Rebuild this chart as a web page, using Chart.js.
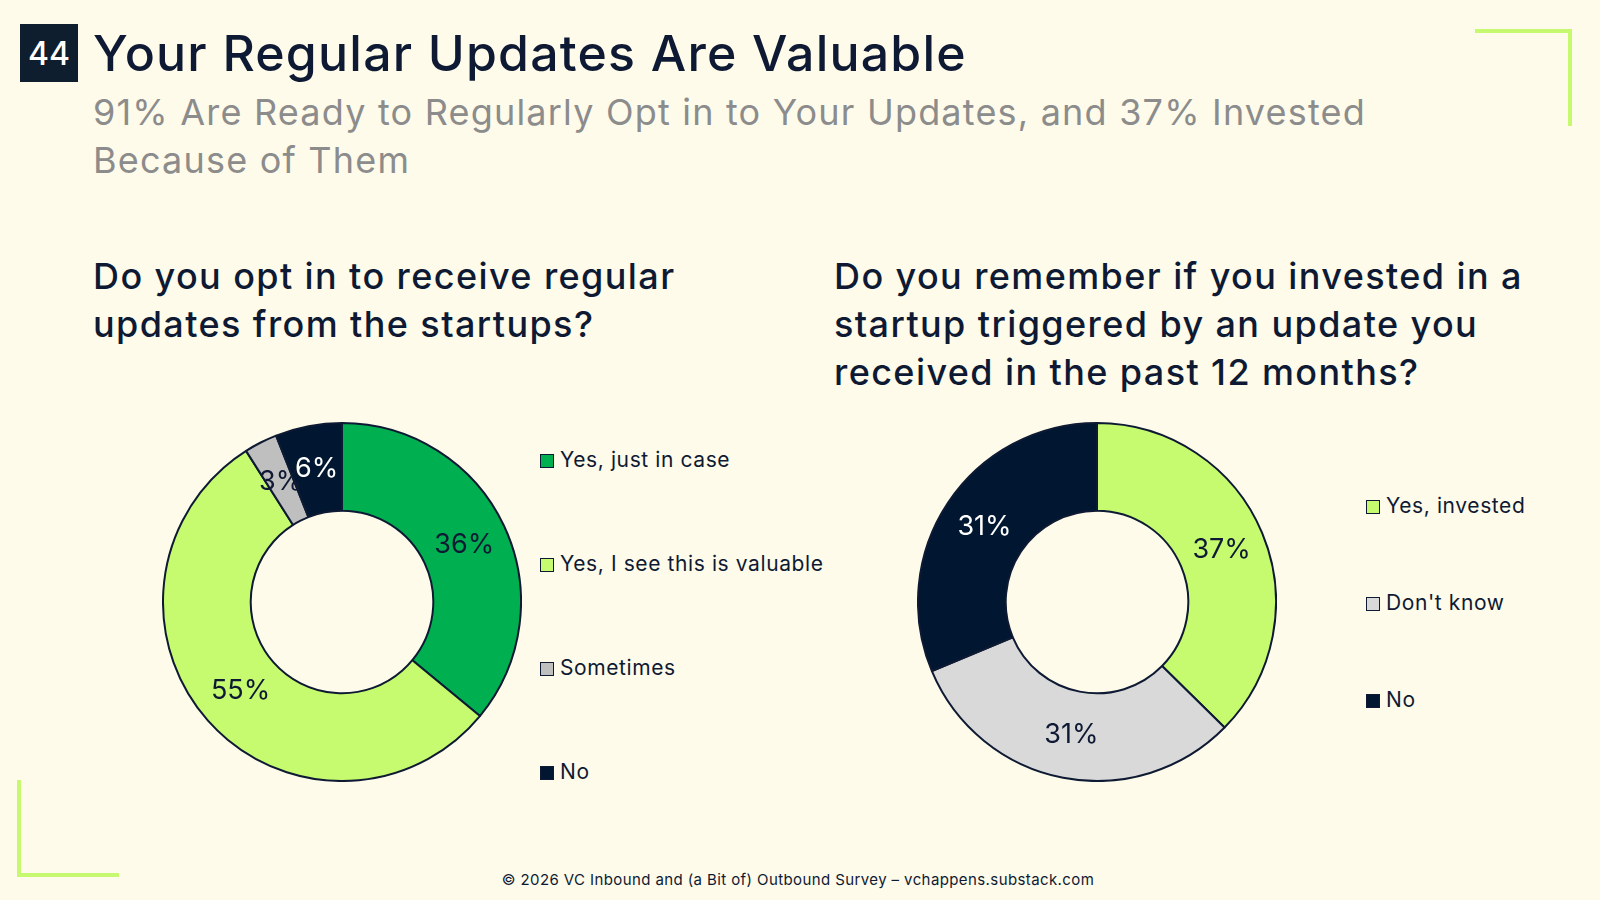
<!DOCTYPE html>
<html>
<head>
<meta charset="utf-8">
<script src="https://cdn.jsdelivr.net/npm/chart.js@4"></script>
<style>
  body { margin: 0; background: #fefbea; font-family: "Inter", "DejaVu Sans", sans-serif; color: #0e1a2e; }
  #page { position: relative; width: 1600px; height: 900px; overflow: hidden; background: #fefbea; }
  .abs { position: absolute; }
  #badge { left: 20px; top: 24px; width: 58px; height: 58px; background: #0f1e2e; color: #fff; font-size: 32px; font-weight: 500; display: flex; align-items: center; justify-content: center; }
  #title { left: 93px; top: 23px; font-size: 50px; font-weight: 500; letter-spacing: 1.2px; color: #0e1a33; }
  #subtitle { left: 93px; top: 88px; font-size: 36px; color: #8c8c8c; line-height: 48px; width: 1400px; letter-spacing: 1.2px; }
  .q { font-size: 36px; font-weight: 500; line-height: 48px; color: #0e1a33; letter-spacing: 1.4px; }
  .legend div { position: absolute; white-space: nowrap; font-size: 21px; color: #0e1a33; line-height: 24px; letter-spacing: 0.6px; }
  .legend span { display: inline-block; width: 12px; height: 12px; border: 1.5px solid #0e1a33; margin-right: 6px; vertical-align: -1px; }
  .bar { background: #c6f96f; position: absolute; }
  #footer { left: 0; width: 1596px; top: 870px; text-align: center; font-size: 15px; color: #0e1a33; letter-spacing: 0.4px; }
</style>
</head>
<body>
<div id="page">
  <div id="badge" class="abs">44</div>
  <div id="title" class="abs">Your Regular Updates Are Valuable</div>
  <div id="subtitle" class="abs">91% Are Ready to Regularly Opt in to Your Updates, and 37% Invested<br>Because of Them</div>

  <div class="bar" style="left:1475px;top:29px;width:97px;height:4px"></div>
  <div class="bar" style="left:1568px;top:29px;width:4px;height:97px"></div>
  <div class="bar" style="left:17px;top:780px;width:4px;height:97px"></div>
  <div class="bar" style="left:17px;top:873px;width:102px;height:4px"></div>

  <div class="abs q" style="left:93px;top:252px;width:740px">Do you opt in to receive regular<br>updates from the startups?</div>
  <div class="abs q" style="left:834px;top:252px;width:760px">Do you remember if you invested in a<br>startup triggered by an update you<br>received in the past 12 months?</div>

  <div class="abs" style="left:162px;top:422px;width:360px;height:360px"><canvas id="c1" width="360" height="360"></canvas></div>
  <div class="abs" style="left:917px;top:422px;width:360px;height:360px"><canvas id="c2" width="360" height="360"></canvas></div>

  <div id="leg1" class="legend"></div>
  <div id="leg2" class="legend"></div>

  <div id="footer" class="abs">© 2026 VC Inbound and (a Bit of) Outbound Survey – vchappens.substack.com</div>
</div>
<script>
const optInLabels = ["Yes, just in case", "Yes, I see this is valuable", "Sometimes", "No"];
const optInValues = [36, 55, 3, 6];
const optInColors = ["#00b050", "#c6fb70", "#bfbfbf", "#011630"];
const optInText = ["#0e1a33", "#0e1a33", "#0e1a33", "#ffffff"];

const investLabels = ["Yes, invested", "Don't know", "No"];
const investValues = [37, 31, 31];
const investColors = ["#c6fb70", "#d9d9d9", "#011630"];
const investText = ["#0e1a33", "#0e1a33", "#ffffff"];

const pctLabels = {
  id: "pctLabels",
  afterDatasetsDraw(chart) {
    const ctx = chart.ctx;
    const ds = chart.data.datasets[0];
    chart.getDatasetMeta(0).data.forEach((arc, i) => {
      const p = arc.tooltipPosition();
      ctx.save();
      ctx.font = "27px Inter, sans-serif";
      ctx.fillStyle = ds.textColors[i];
      ctx.textAlign = "center";
      ctx.textBaseline = "middle";
      ctx.fillText(ds.data[i] + "%", p.x, p.y);
      ctx.restore();
    });
  }
};

function donut(id, values, colors, textColors) {
  new Chart(document.getElementById(id), {
    type: "doughnut",
    data: {
      datasets: [{
        data: values,
        backgroundColor: colors,
        borderColor: "#0e1a33",
        borderWidth: 2,
        textColors
      }]
    },
    options: {
      responsive: false,
      animation: false,
      cutout: "51%",
      layout: { padding: 0 },
      plugins: { legend: { display: false }, tooltip: { enabled: false } }
    },
    plugins: [pctLabels]
  });
}

function legend(id, labels, colors, left, tops) {
  const el = document.getElementById(id);
  labels.forEach((l, i) => {
    const d = document.createElement("div");
    d.style.left = left + "px";
    d.style.top = tops[i] + "px";
    d.innerHTML = `<span style="background:${colors[i]}"></span>${l}`;
    el.appendChild(d);
  });
}

donut("c1", optInValues, optInColors, optInText);
donut("c2", investValues, investColors, investText);
legend("leg1", optInLabels, optInColors, 540, [448, 552, 656, 760]);
legend("leg2", investLabels, investColors, 1366, [494, 591, 688]);
</script>
</body>
</html>
